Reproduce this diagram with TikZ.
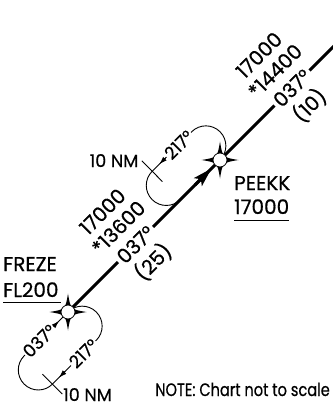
\documentclass[tikz,border=0pt]{standalone}
\usepackage{fontspec}
\setmainfont{Poppins}[FakeBold=0.6]
\newfontfamily\notefont{Poppins}[FakeStretch=0.81,FakeBold=0.6]
\usetikzlibrary{arrows.meta,calc}
\tikzset{
  route/.style={line width=3pt},
  holdln/.style={line width=0.9pt},
  bigtxt/.style={font=\fontsize{20}{22}\selectfont, inner sep=0pt},
  midtxt/.style={font=\fontsize{17.5}{19}\selectfont, inner sep=0pt},
  rlabel/.style={bigtxt, rotate=45},
  ronline/.style={bigtxt, rotate=45, fill=white, inner sep=3pt},
  hlabel/.style={midtxt, rotate=45, fill=white, inner sep=1pt},
  harrow/.style={holdln, -{Latex[length=8pt,width=5pt]}},
  uline/.style={line width=0.8pt},
  fixstar/.pic={
    \fill (18.5,0) .. controls (2.6,2.6) .. (0,18.5) .. controls (-2.6,2.6) .. (-18.5,0)
      .. controls (-2.6,-2.6) .. (0,-18.5) .. controls (2.6,-2.6) .. cycle;
    \filldraw[fill=white, draw=black, line width=0.8pt] (0,0) circle[radius=7];
  }
}
\begin{document}
\begin{tikzpicture}[x=1pt,y=-1pt]
\useasboundingbox (0,0) rectangle (332,404);
% main points
\coordinate (F) at (68,312);
\coordinate (P) at (220,160);
\coordinate (E) at (336,44);
\coordinate (M2) at (135.5,244.5);
\coordinate (M3) at (292,88);
\coordinate (AS) at (195,185);
\coordinate (AT) at (211.5,168.5);
% FREZE hold
\coordinate (O1) at (96.28,340.28);
\coordinate (O2) at (52.44,384.12);
\coordinate (T1a) at (42.5,374.2);
\coordinate (T1b) at (62.3,394);
\coordinate (FA1) at (65.2,371.4);
\coordinate (FA2) at (58.8,377.8);
\coordinate (FB1) at (53,327);
\coordinate (FB2) at (59.2,320.8);
% PEEKK hold
\coordinate (Q1) at (191.72,131.72);
\coordinate (Q2) at (152.12,171.32);
\coordinate (T2a) at (141.9,160.8);
\coordinate (T2b) at (162.4,181.6);
\coordinate (PA1) at (165.6,157.9);
\coordinate (PA2) at (159.2,164.3);

% route
\draw[route] (F) -- (E);
\draw[route, -{Stealth[length=19pt,width=11pt,inset=4pt]}] (AS) -- (AT);

% FREZE holding
\draw[holdln] (F) arc[start angle=225,end angle=405,radius=20] -- (O2)
  arc[start angle=45,end angle=225,radius=20] -- (F);
\draw[holdln] (T1a) -- (T1b);
\draw[harrow] (FA1) -- (FA2);
\draw[harrow] (FB1) -- (FB2);

% PEEKK holding
\draw[holdln] (P) arc[start angle=45,end angle=-135,radius=20] -- (Q2)
  arc[start angle=225,end angle=45,radius=20];
\draw[holdln] (T2a) -- (T2b);
\draw[harrow] (PA1) -- (PA2);

% holding labels
\node[hlabel, anchor=east] (h1) at (95.6,341) {217°};
\node[hlabel, anchor=west] (h2) at (24.9,355.1) {037°};
\node[hlabel, anchor=east] (h3) at (191.0,132.4) {217°};
\node[midtxt, anchor=base west] (nm1) at (63,401) {10 NM};
\node[midtxt, anchor=base east] (nm2) at (138.5,167) {10 NM};

% route labels
\node[ronline] (c2) at (M2) {037°};
\node[rlabel] (b2) at ($(M2)+(-17,-17)$) {*13600};
\node[rlabel] (a2) at ($(M2)+(-33,-33)$) {17000};
\node[rlabel] (d2) at ($(M2)+(17.5,17.5)$) {(25)};
\node[ronline] (c3) at (M3) {037°};
\node[rlabel] (b3) at ($(M3)+(-17,-17)$) {*14400};
\node[rlabel] (a3) at ($(M3)+(-33,-33)$) {17000};
\node[rlabel] (d3) at ($(M3)+(17.5,17.5)$) {(10)};

% fix labels
\node[bigtxt, anchor=base west] (fz) at (3,271) {FREZE};
\node[bigtxt, anchor=base west] (fl) at (3,297) {FL200};
\draw[uline] ([yshift=-5pt]fl.base west) -- ([yshift=-5pt,xshift=2pt]fl.base east);
\node[bigtxt, anchor=base west] (pk) at (234,190) {PEEKK};
\node[bigtxt, anchor=base west] (pa) at (234,214) {17000};
\draw[uline] ([yshift=-6pt]pa.base west) -- ([yshift=-6pt]pa.base east);

\node[font=\notefont\fontsize{18}{20}\selectfont, inner sep=0pt, anchor=base east] (note) at (330,396) {NOTE: Chart not to scale};

% fixes
\pic at (F) {fixstar};
\pic at (P) {fixstar};
\end{tikzpicture}
\end{document}
